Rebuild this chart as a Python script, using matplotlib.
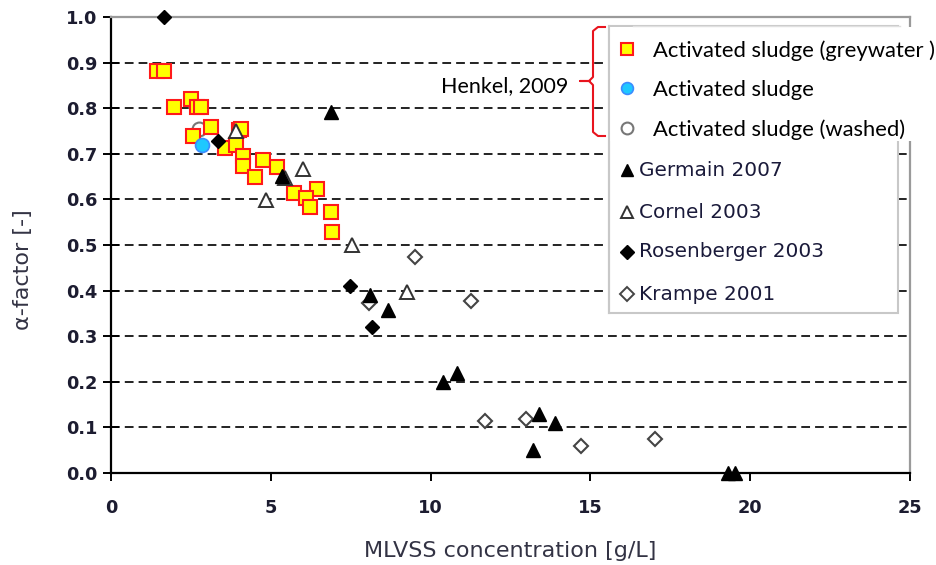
import matplotlib
matplotlib.use("Agg")
import matplotlib.pyplot as plt
from matplotlib.lines import Line2D
from matplotlib.patches import Rectangle

# ---- data ----
grey_x = [1.44, 1.66, 1.97, 2.50, 2.69, 2.82, 3.13, 2.56, 4.00, 4.06, 3.57, 3.91,
          4.13, 4.13, 4.75, 4.51, 5.18, 5.73, 6.45, 6.10, 6.23, 6.87, 6.90]
grey_y = [0.882, 0.882, 0.803, 0.820, 0.803, 0.803, 0.759, 0.739, 0.752, 0.755, 0.713, 0.719,
          0.695, 0.673, 0.686, 0.649, 0.672, 0.615, 0.623, 0.603, 0.583, 0.572, 0.528]
as_x = [2.84]
as_y = [0.719]
washed_x = [2.76]
washed_y = [0.754]
germain_x = [6.88, 5.34, 8.10, 8.68, 10.38, 10.82, 13.40, 13.89, 13.21, 19.32, 19.52]
germain_y = [0.792, 0.651, 0.390, 0.357, 0.199, 0.219, 0.129, 0.109, 0.050, 0.0, 0.0]
cornel_x = [3.91, 6.00, 5.44, 4.85, 7.55, 9.27]
cornel_y = [0.749, 0.667, 0.646, 0.599, 0.500, 0.398]
rosen_x = [1.66, 3.36, 7.48, 8.16]
rosen_y = [1.000, 0.729, 0.409, 0.321]
krampe_x = [9.51, 8.07, 11.25, 11.70, 12.97, 14.70, 17.03]
krampe_y = [0.473, 0.373, 0.378, 0.114, 0.118, 0.060, 0.074]

xticks = [0, 5, 10, 15, 20, 25]
yticks = [0.0, 0.1, 0.2, 0.3, 0.4, 0.5, 0.6, 0.7, 0.8, 0.9, 1.0]

legend_top = ["Activated sludge (greywater )", "Activated sludge", "Activated sludge (washed)"]
legend_bottom = ["Germain 2007", "Cornel 2003", "Rosenberger 2003", "Krampe 2001"]
bracket_label = "Henkel, 2009"

W, H = 937, 565
fig = plt.figure(figsize=(W / 100, H / 100), dpi=100)
ax = fig.add_axes([111 / W, 1 - 473 / H, (910 - 111) / W, (473 - 17) / H])

def fx(px):
    return px / W

def fy(py):
    return 1 - py / H

ax.set_xlim(0, 25)
ax.set_ylim(0, 1.0)

for yv in yticks[1:-1]:
    ax.axhline(yv, color="#222222", lw=1.4, ls=(0, (4.5, 2.6)), zorder=1)

ax.plot(grey_x, grey_y, ls="none", marker="s", ms=9.5, mfc="#FFFF00", mec="#FF1A1A", mew=1.5, zorder=3)
ax.plot(washed_x, washed_y, ls="none", marker="o", ms=10, mfc="white", mec="#777777", mew=1.5, zorder=2.5)
ax.plot(as_x, as_y, ls="none", marker="o", ms=10, mfc="#1EC8FF", mec="#3A8CFF", mew=1.2, zorder=4)
ax.plot(cornel_x, cornel_y, ls="none", marker="^", ms=9.5, mfc="white", mec="#333333", mew=1.4, zorder=4)
ax.plot(germain_x, germain_y, ls="none", marker="^", ms=9.5, mfc="black", mec="black", mew=1.0, zorder=5, clip_on=False)
ax.plot(krampe_x, krampe_y, ls="none", marker="D", ms=7.5, mfc="white", mec="#444444", mew=1.5, zorder=4)
ax.plot(rosen_x, rosen_y, ls="none", marker="D", ms=7.5, mfc="black", mec="black", mew=1.0, zorder=5, clip_on=False)

ax.set_xticks(xticks)
ax.set_xticklabels([str(v) for v in xticks])
ax.set_yticks(yticks)
ax.set_yticklabels([f"{v:.1f}" for v in yticks])

tick_color = "#1c1c30"
ax.tick_params(axis="y", direction="inout", length=11, width=1.4, colors="black",
               labelsize=12.8, labelcolor=tick_color, pad=4)
ax.tick_params(axis="x", direction="out", length=6, width=1.4, colors="black",
               labelsize=12.8, labelcolor=tick_color, pad=13)
for lab in ax.get_xticklabels() + ax.get_yticklabels():
    lab.set_fontweight("bold")

for s in ["left", "bottom"]:
    ax.spines[s].set_color("black")
    ax.spines[s].set_linewidth(1.6)
for s in ["top", "right"]:
    ax.spines[s].set_color("#9a9a9a")
    ax.spines[s].set_linewidth(1.6)

ax.set_xlabel("MLVSS concentration [g/L]", fontsize=16, color="#333344", labelpad=17)
ax.set_ylabel("α-factor [-]", fontsize=16, color="#333344")
ax.yaxis.set_label_coords(-0.0976, 0.445)

# ---- legend (drawn manually) ----
fig.add_artist(Rectangle((fx(609), fy(313)), (898 - 609) / W, (313 - 26) / H,
                         transform=fig.transFigure, facecolor="white",
                         edgecolor="#c8c8c8", lw=1.5, zorder=10))
fig.add_artist(Rectangle((fx(610), fy(141)), (937 - 610) / W, (141 - 27) / H,
                         transform=fig.transFigure, facecolor="white",
                         edgecolor="none", lw=0, zorder=11))
fig.add_artist(Line2D([fx(633), fx(900)], [fy(26), fy(26)], transform=fig.transFigure,
                      color="#e0e0e0", lw=1.0, zorder=11.5))
fig.add_artist(Line2D([fx(609), fx(609)], [fy(26), fy(313)], transform=fig.transFigure,
                      color="#c8c8c8", lw=1.5, zorder=11.5))

top_rows = [49, 88, 128]
top_styles = [
    dict(marker="s", ms=9, mfc="#FFFF00", mec="#FF1A1A", mew=1.5),
    dict(marker="o", ms=8.5, mfc="#1EC8FF", mec="#3A8CFF", mew=1.2),
    dict(marker="o", ms=8.5, mfc="white", mec="#777777", mew=1.5),
]
for row, lab, st in zip(top_rows, legend_top, top_styles):
    fig.add_artist(Line2D([fx(627)], [fy(row)], transform=fig.transFigure, ls="none",
                          zorder=12, **st))
    fig.text(fx(653), fy(row + 2), lab, fontsize=15.8, family="Lato", color="black",
             va="center", ha="left", zorder=12)

bot_rows = [170, 212, 252, 294]
bot_styles = [
    dict(marker="^", ms=9, mfc="black", mec="black", mew=1.0),
    dict(marker="^", ms=9, mfc="white", mec="#333333", mew=1.4),
    dict(marker="D", ms=7, mfc="black", mec="black", mew=1.0),
    dict(marker="D", ms=7, mfc="white", mec="#444444", mew=1.4),
]
for row, lab, st in zip(bot_rows, legend_bottom, bot_styles):
    fig.add_artist(Line2D([fx(627)], [fy(row)], transform=fig.transFigure, ls="none",
                          zorder=12, **st))
    fig.text(fx(639), fy(row), lab, fontsize=14.4, family="DejaVu Sans", color="#1a1a3a",
             va="center", ha="left", zorder=12)

# bracket
bx = [605, 598, 593, 593, 589, 580, 589, 593, 593, 598, 605]
by = [27, 27, 31, 77, 81, 81, 81, 85, 132, 136, 136]
fig.add_artist(Line2D([fx(v) for v in bx], [fy(v) for v in by], transform=fig.transFigure,
                      color="#E8141E", lw=1.5, zorder=12))
fig.text(fx(505), fy(86), bracket_label, fontsize=15.5, family="Lato", color="black",
         ha="center", va="center", zorder=12)

fig.savefig("out.png", dpi=100)
